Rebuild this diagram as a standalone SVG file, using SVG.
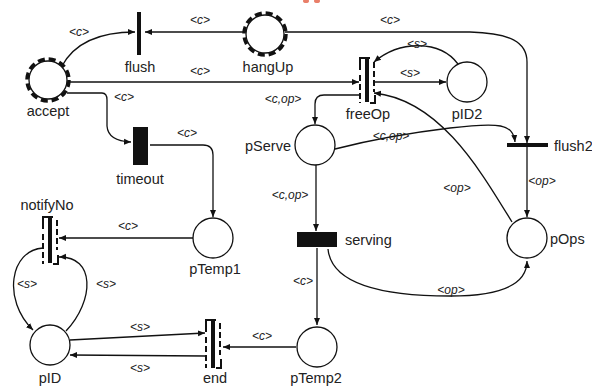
<svg xmlns="http://www.w3.org/2000/svg" width="592" height="388" viewBox="0 0 592 388">
<style>
.arc{fill:none;stroke:#111;stroke-width:1.3}
.pl{fill:#fff;stroke:#111;stroke-width:1.3}
.ring{fill:none;stroke:#111;stroke-width:3.5;stroke-dasharray:7 4}
.nl{font-family:"Liberation Sans",Arial,sans-serif;font-size:14.5px;fill:#222;text-anchor:middle}
.al{font-family:"Liberation Sans",Arial,sans-serif;font-size:12px;font-style:italic;fill:#222;text-anchor:middle}
.bar{fill:#111}
.thin{fill:none;stroke:#111;stroke-width:2}
.dsh{fill:none;stroke:#111;stroke-width:2;stroke-dasharray:6 3}
</style>
<defs>
<marker id="ah" markerWidth="8" markerHeight="8" refX="7" refY="4" orient="auto" markerUnits="userSpaceOnUse">
<path d="M0,1 L7,4 L0,7 Z" fill="#111"/>
</marker>
</defs>
<rect width="592" height="388" fill="#fff"/>
<ellipse cx="306" cy="1" rx="3" ry="2" fill="#e0482a" opacity="0.7"/>
<ellipse cx="317" cy="1" rx="3" ry="2" fill="#e0482a" opacity="0.7"/>

<g id="connectors">
<path class="arc" d="M245,32 H145" marker-end="url(#ah)"/>
<text class="al" x="200" y="24">&lt;c&gt;</text>
<path class="arc" d="M62,66 C75,42 100,32 135,32" marker-end="url(#ah)"/>
<text class="al" x="79" y="36">&lt;c&gt;</text>
<path class="arc" d="M69,82 H359" marker-end="url(#ah)"/>
<text class="al" x="200" y="75">&lt;c&gt;</text>
<path class="arc" d="M67,93 H102 Q107,93 107,100 V126 Q108,141 131,142" marker-end="url(#ah)"/>
<text class="al" x="124" y="101">&lt;c&gt;</text>
<path class="arc" d="M285,32 H470 C510,33 527,42 527,62 V143" marker-end="url(#ah)"/>
<text class="al" x="390" y="24">&lt;c&gt;</text>
<path class="arc" d="M373,82 H446" marker-end="url(#ah)"/>
<text class="al" x="410" y="77">&lt;s&gt;</text>
<path class="arc" d="M458,64 C440,40 400,40 374,62" marker-end="url(#ah)"/>
<text class="al" x="417" y="48">&lt;s&gt;</text>
<path class="arc" d="M360,95 H324 Q315,95 315,104 V124" marker-end="url(#ah)"/>
<text class="al" x="283" y="103">&lt;c,op&gt;</text>
<path class="arc" d="M335,149 C370,140 400,134 450,128 C500,122 513,124 515,142" marker-end="url(#ah)"/>
<text class="al" x="391" y="140">&lt;c,op&gt;</text>
<path class="arc" d="M512,222 C480,170 440,100 374,93" marker-end="url(#ah)"/>
<text class="al" x="457" y="192">&lt;op&gt;</text>
<path class="arc" d="M527,147 V217" marker-end="url(#ah)"/>
<text class="al" x="542" y="185">&lt;op&gt;</text>
<path class="arc" d="M316,165 V231" marker-end="url(#ah)"/>
<text class="al" x="290" y="199">&lt;c,op&gt;</text>
<path class="arc" d="M328,249 C332,290 400,296 450,296 C500,296 527,285 527,261" marker-end="url(#ah)"/>
<text class="al" x="451" y="294">&lt;op&gt;</text>
<path class="arc" d="M317,248 V325" marker-end="url(#ah)"/>
<text class="al" x="303" y="285">&lt;c&gt;</text>
<path class="arc" d="M296,347 H223" marker-end="url(#ah)"/>
<text class="al" x="262" y="340">&lt;c&gt;</text>
<path class="arc" d="M70,340 L205,333" marker-end="url(#ah)"/>
<text class="al" x="140" y="331">&lt;s&gt;</text>
<path class="arc" d="M205,356 L70,355" marker-end="url(#ah)"/>
<text class="al" x="140" y="372">&lt;s&gt;</text>
<path class="arc" d="M193,238 H59" marker-end="url(#ah)"/>
<text class="al" x="128" y="230">&lt;c&gt;</text>
<path class="arc" d="M150,145 H203 Q213,145 213,155 V217" marker-end="url(#ah)"/>
<text class="al" x="187" y="137">&lt;c&gt;</text>
<path class="arc" d="M43,248 C10,250 2,300 33,330" marker-end="url(#ah)"/>
<text class="al" x="27" y="288">&lt;s&gt;</text>
<path class="arc" d="M66,331 C95,300 95,256 59,257" marker-end="url(#ah)"/>
<text class="al" x="106" y="288">&lt;s&gt;</text>
</g>

<g id="accept">
<circle class="pl" cx="48" cy="80" r="19"/>
<circle class="ring" cx="48" cy="80" r="21"/>
<text class="nl" x="48" y="116">accept</text>
</g>
<g id="flush">
<rect class="bar" x="137" y="12" width="4" height="43"/>
<text class="nl" x="140" y="72">flush</text>
</g>
<g id="hangUp">
<circle class="pl" cx="265" cy="34" r="19"/>
<circle class="ring" cx="265" cy="34" r="21"/>
<text class="nl" x="268" y="72">hangUp</text>
</g>
<g id="freeOp">
<rect class="bar" x="365" y="58" width="4" height="44"/>
<path class="thin" d="M360,70 V58 H370"/>
<path class="dsh" d="M360,75 V103"/>
<path class="dsh" d="M374,62 V92"/>
<path class="thin" d="M370,103 H375 V95"/>
<text class="nl" x="368" y="119">freeOp</text>
</g>
<g id="pID2">
<circle class="pl" cx="467" cy="82" r="20"/>
<text class="nl" x="467" y="119">pID2</text>
</g>
<g id="timeout">
<rect class="bar" x="133" y="127" width="15" height="38"/>
<text class="nl" x="140" y="184">timeout</text>
</g>
<g id="pServe">
<circle class="pl" cx="315" cy="145" r="20"/>
<text class="nl" x="291" y="151" style="text-anchor:end">pServe</text>
</g>
<g id="flush2">
<rect class="bar" x="507" y="143" width="41" height="4"/>
<text class="nl" x="554" y="151" style="text-anchor:start">flush2</text>
</g>
<g id="notifyNo">
<rect class="bar" x="48" y="217" width="4" height="46"/>
<path class="thin" d="M43,229 V217 H53"/>
<path class="dsh" d="M43,234 V264"/>
<path class="dsh" d="M57,220 V250"/>
<path class="thin" d="M53,264 H58 V255"/>
<text class="nl" x="47" y="210">notifyNo</text>
</g>
<g id="pTemp1">
<circle class="pl" cx="213" cy="238" r="20"/>
<text class="nl" x="215" y="274">pTemp1</text>
</g>
<g id="serving">
<rect class="bar" x="297" y="232" width="40" height="15"/>
<text class="nl" x="345" y="245" style="text-anchor:start">serving</text>
</g>
<g id="pOps">
<circle class="pl" cx="527" cy="238" r="20"/>
<text class="nl" x="550" y="244" style="text-anchor:start">pOps</text>
</g>
<g id="pID">
<circle class="pl" cx="50" cy="345" r="20"/>
<text class="nl" x="50" y="383">pID</text>
</g>
<g id="end">
<rect class="bar" x="211" y="320" width="4" height="48"/>
<path class="thin" d="M206,332 V320 H216"/>
<path class="dsh" d="M206,337 V368"/>
<path class="dsh" d="M220,323 V355"/>
<path class="thin" d="M216,368 H221 V359"/>
<text class="nl" x="215" y="383">end</text>
</g>
<g id="pTemp2">
<circle class="pl" cx="317" cy="347" r="20"/>
<text class="nl" x="316" y="383">pTemp2</text>
</g>
</svg>
